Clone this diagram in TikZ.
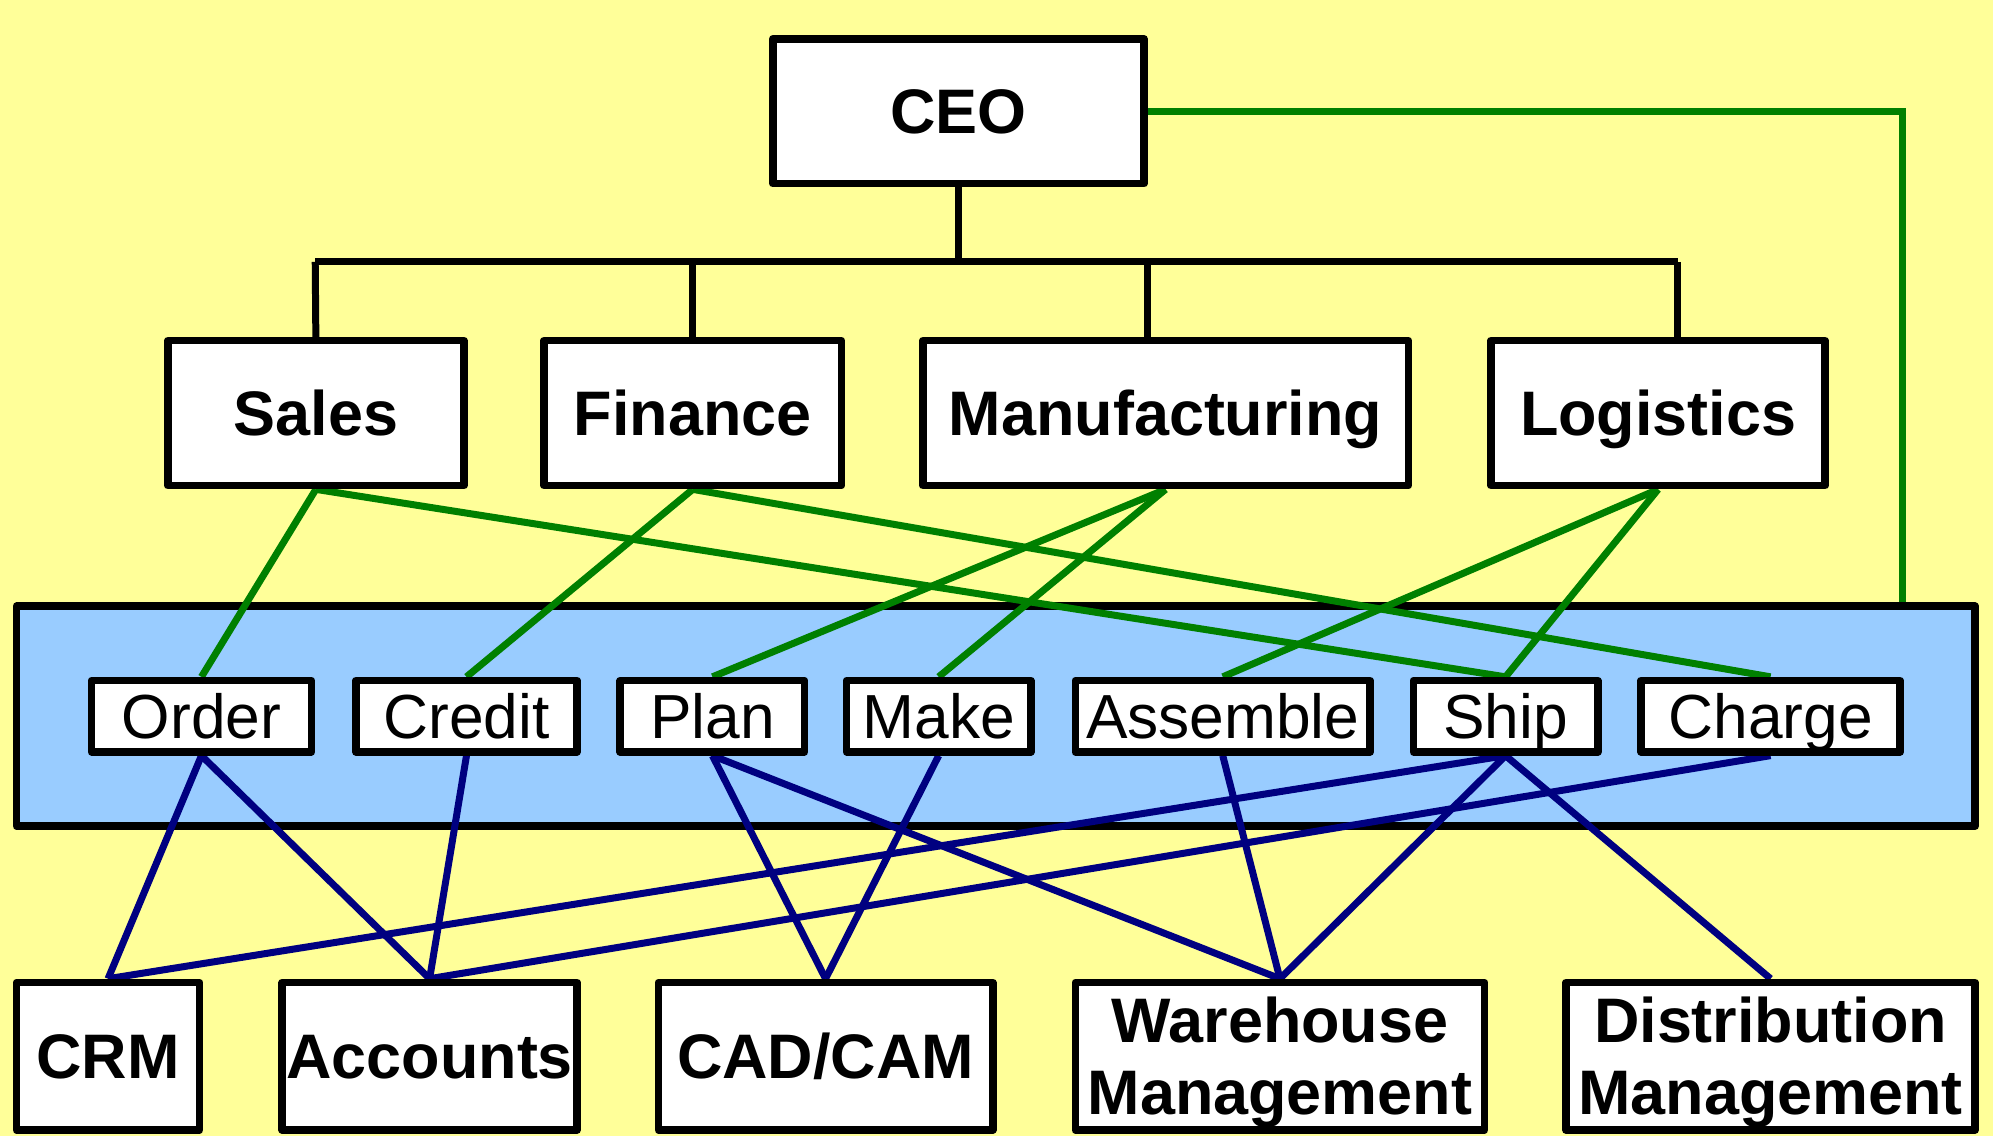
\documentclass[tikz,border=0pt]{standalone}
\usepackage{fontspec}
\setmainfont{Liberation Sans}
\definecolor{bgyellow}{HTML}{FFFF99}
\definecolor{bandblue}{HTML}{99CCFF}
\definecolor{linkgreen}{HTML}{008000}
\definecolor{linknavy}{HTML}{000080}
\pgfdeclarelayer{bg}
\pgfdeclarelayer{links}
\pgfsetlayers{bg,links,main}
\tikzset{
  box/.style={draw=black, fill=white, line width=6pt, line join=round, inner sep=0pt,
              text height=35pt, text depth=0pt},
  bigbox/.style={box, font=\fontsize{49.5}{57}\selectfont\bfseries, minimum height=114pt},
  smallbox/.style={box, font=\fontsize{49}{57}\selectfont, minimum height=56pt},
  sysbox/.style={box, font=\fontsize{49.5}{57}\selectfont\bfseries, minimum height=116pt, align=center},
  tree/.style={draw=black, line width=5.5pt},
  glink/.style={draw=linkgreen, line width=5.5pt},
  nlink/.style={draw=linknavy, line width=5.5pt},
}
\begin{document}
\begin{tikzpicture}[x=1pt, y=-1pt]
\useasboundingbox (0,0) rectangle (1568,894);
\begin{pgfonlayer}{bg}
  \fill[bgyellow] (0,0) rectangle (1568,894);
  \node[draw=black, fill=bandblue, line width=6pt, line join=round, inner sep=0pt,
        minimum width=1541pt, minimum height=173pt] (band) at (783.5,563.5) {};
\end{pgfonlayer}

% top level
\node[bigbox, minimum width=292pt] (ceo) at (754,87.5) {CEO};
\node[bigbox, minimum width=233pt, minimum height=114pt] (sales) at (248.5,325) {Sales};
\node[bigbox, minimum width=234pt, minimum height=114pt] (fin) at (545,325) {Finance};
\node[bigbox, minimum width=382pt, minimum height=114pt] (mfg) at (917,325) {Manufacturing};
\node[bigbox, minimum width=263pt, minimum height=114pt] (log) at (1304.5,325) {Logistics};

% processes
\node[smallbox, minimum width=173pt] (order) at (158.5,563.5) {Order};
\node[smallbox, minimum width=174pt] (credit) at (367,563.5) {Credit};
\node[smallbox, minimum width=145pt] (plan) at (560.5,563.5) {Plan};
\node[smallbox, minimum width=145pt] (make) at (738.5,563.5) {Make};
\node[smallbox, minimum width=232pt] (assemble) at (962,563.5) {Assemble};
\node[smallbox, minimum width=145pt] (ship) at (1184.5,563.5) {Ship};
\node[smallbox, minimum width=204pt] (charge) at (1393,563.5) {Charge};

% systems
\node[sysbox, minimum width=144pt] (crm) at (85,831) {CRM};
\node[sysbox, minimum width=232pt] (acc) at (338,831) {Accounts};
\node[sysbox, minimum width=263pt] (cad) at (649.5,831) {CAD/CAM};
\node[sysbox, minimum width=322pt, text height=92pt] (wh) at (1007,831) {Warehouse\\Management};
\node[sysbox, minimum width=322pt, text height=92pt] (dist) at (1393,831) {Distribution\\Management};

\coordinate (busL) at (248,206);
\coordinate (busR) at (1320,206);
\coordinate (mfgstem) at (903,206);
\coordinate (ceoturn) at (1497,87.5);

\begin{pgfonlayer}{links}
  % org tree
  \draw[tree] (ceo.south) -- (ceo.south |- busL);
  \draw[tree] (busL) -- (busR);
  \draw[tree] (busL) -- (sales.north);
  \draw[tree] (fin.north |- busL) -- (fin.north);
  \draw[tree] (mfgstem) -- (mfgstem |- mfg.north);
  \draw[tree] (busR) -- (busR |- log.north);
  % green links
  \draw[glink] (ceo.east) -- (ceoturn) -- (ceoturn |- band.north);
  \draw[glink] (sales.south) -- (order.north);
  \draw[glink] (sales.south) -- (ship.north);
  \draw[glink] (fin.south) -- (credit.north);
  \draw[glink] (fin.south) -- (charge.north);
  \draw[glink] (mfg.south) -- (plan.north);
  \draw[glink] (mfg.south) -- (make.north);
  \draw[glink] (log.south) -- (assemble.north);
  \draw[glink] (log.south) -- (ship.north);
  % navy links
  \draw[nlink] (order.south) -- (crm.north);
  \draw[nlink] (order.south) -- (acc.north);
  \draw[nlink] (credit.south) -- (acc.north);
  \draw[nlink] (plan.south) -- (cad.north);
  \draw[nlink] (plan.south) -- (wh.north);
  \draw[nlink] (make.south) -- (cad.north);
  \draw[nlink] (assemble.south) -- (wh.north);
  \draw[nlink] (ship.south) -- (crm.north);
  \draw[nlink] (ship.south) -- (wh.north);
  \draw[nlink] (ship.south) -- (dist.north);
  \draw[nlink] (charge.south) -- (acc.north);
\end{pgfonlayer}
\end{tikzpicture}
\end{document}
